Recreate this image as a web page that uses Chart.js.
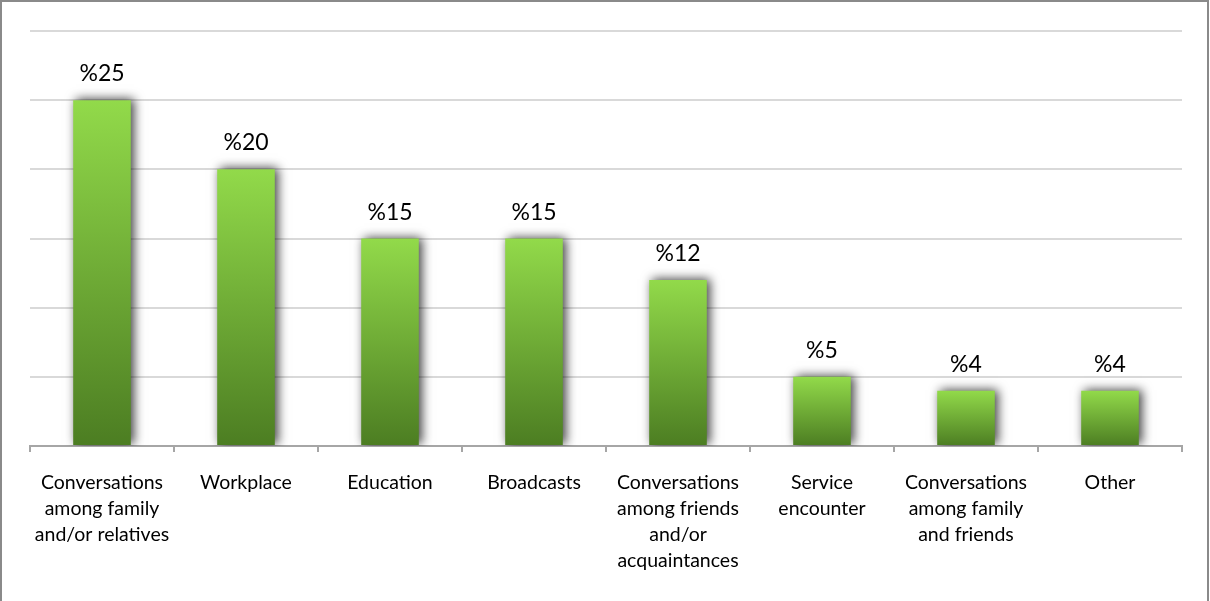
<!DOCTYPE html>
<html>
<head>
<meta charset="utf-8">
<script src="https://cdn.jsdelivr.net/npm/chart.js@4"></script>
<style>
html,body{margin:0;padding:0;background:#fff;}
#wrap{position:relative;width:1210px;height:601px;}
canvas{display:block;}
</style>
</head>
<body>
<div id="wrap"><canvas id="c" width="1210" height="601"></canvas></div>
<script>
const categories = [
  ["Conversations","among family","and/or relatives"],
  ["Workplace"],
  ["Education"],
  ["Broadcasts"],
  ["Conversations","among friends","and/or","acquaintances"],
  ["Service","encounter"],
  ["Conversations","among family","and friends"],
  ["Other"]
];
const values = [25, 20, 15, 15, 12, 5, 4, 4];
const valueLabels = ["%25","%20","%15","%15","%12","%5","%4","%4"];
const yTicks = [0, 5, 10, 15, 20, 25, 30];

function barGradient(context) {
  const chart = context.chart;
  const ys = chart.scales && chart.scales.y;
  if (!chart.chartArea || !ys || context.type !== 'data') return '#7cbf3a';
  const top = ys.getPixelForValue(context.raw);
  const base = ys.getPixelForValue(0);
  const g = chart.ctx.createLinearGradient(0, top, 0, base);
  g.addColorStop(0, '#92da4a');
  g.addColorStop(1, '#4c7d22');
  return g;
}

const stylePlugin = {
  id: 'barStyle',
  beforeDatasetsDraw(chart) {
    const ctx = chart.ctx;
    ctx.save();
    ctx.shadowColor = 'rgba(0,0,0,0.75)';
    ctx.shadowBlur = 10;
    ctx.shadowOffsetX = 3;
    ctx.shadowOffsetY = -1;
  },
  afterDatasetsDraw(chart) {
    const ctx = chart.ctx;
    ctx.restore();
    ctx.save();
    ctx.fillStyle = '#000';
    ctx.font = '23px Lato, "Open Sans", sans-serif';
    ctx.textAlign = 'center';
    ctx.textBaseline = 'alphabetic';
    chart.getDatasetMeta(0).data.forEach((bar, i) => {
      ctx.fillText(valueLabels[i], bar.x, bar.y - 19);
    });
    ctx.restore();
  },
  afterDraw(chart) {
    const ctx = chart.ctx;
    ctx.save();
    ctx.strokeStyle = '#8a8a8a';
    ctx.lineWidth = 2;
    ctx.beginPath();
    ctx.moveTo(1, 601);
    ctx.lineTo(1, 1);
    ctx.lineTo(1208, 1);
    ctx.lineTo(1208, 601);
    ctx.stroke();
    ctx.restore();
  }
};

new Chart(document.getElementById('c'), {
  type: 'bar',
  data: {
    labels: categories,
    datasets: [{
      data: values,
      backgroundColor: barGradient,
      borderWidth: 0,
      categoryPercentage: 1.0,
      barPercentage: 0.4
    }]
  },
  options: {
    responsive: false,
    animation: false,
    devicePixelRatio: 1,
    layout: { padding: { left: 30, right: 28, top: 31, bottom: 9 } },
    plugins: { legend: { display: false }, tooltip: { enabled: false } },
    scales: {
      x: {
        grid: {
          offset: true,
          drawOnChartArea: false,
          drawTicks: true,
          tickLength: 6,
          color: '#a6a6a6',
          lineWidth: 2
        },
        border: { display: true, color: '#a6a6a6', width: 2 },
        ticks: {
          color: '#000',
          font: { family: 'Lato, "Open Sans", sans-serif', size: 19.5, lineHeight: '26px' },
          padding: 18,
          maxRotation: 0,
          autoSkip: false
        }
      },
      y: {
        min: 0,
        max: 30,
        afterBuildTicks(axis) { axis.ticks = yTicks.map(v => ({ value: v })); },
        ticks: { display: false },
        grid: { color: '#d9d9d9', lineWidth: 2, drawTicks: false },
        border: { display: false }
      }
    }
  },
  plugins: [stylePlugin]
});
</script>
</body>
</html>
